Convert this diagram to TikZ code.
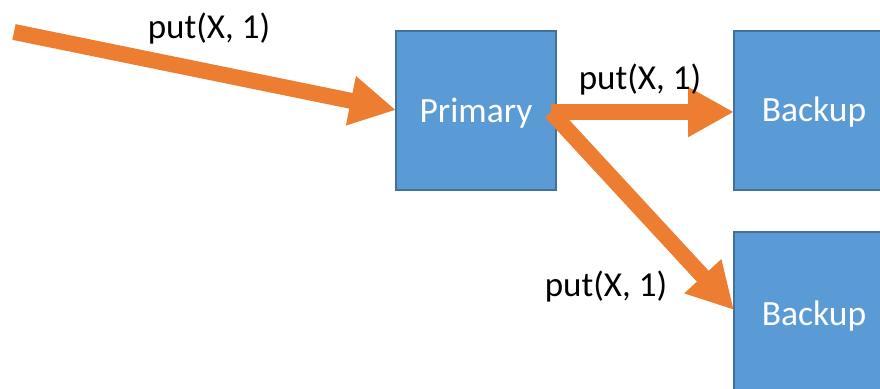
\documentclass[tikz,border=0pt]{standalone}
\usepackage{fontspec}
\setmainfont{Carlito}
\usetikzlibrary{arrows.meta}
\definecolor{boxfill}{HTML}{5B9BD5}
\definecolor{boxline}{HTML}{41719C}
\definecolor{msgorange}{HTML}{ED7D31}
\tikzset{
  server/.style={draw=boxline, fill=boxfill, line width=2pt, minimum width=160pt,
    minimum height=159pt, inner sep=0pt, outer sep=0pt},
  srvtext/.style={text=white, font=\fontsize{35.5}{40}\selectfont, anchor=base},
  msg/.style={draw=msgorange, line width=16pt,
    -{Triangle[length=46pt,width=47pt]}},
  msglabel/.style={font=\fontsize{35}{40}\selectfont, anchor=base, inner sep=0pt}
}
\begin{document}
\begin{tikzpicture}[x=1pt,y=1pt]
  \useasboundingbox (0,0) rectangle (880,388);
  \clip (0,0) rectangle (880,388);
  \fill[white] (0,0) rectangle (880,388);

  % replica boxes
  \node[server] (primary) at (476,277) {};
  \node[server] (backup1) at (814,277) {};
  \node[server] (backup2) at (814,76) {};
  \node[srvtext] (ptext) at (476,265) {Primary};
  \node[srvtext] (b1text) at (814,266) {Backup};
  \node[srvtext] (b2text) at (814,63) {Backup};

  % request path
  \coordinate (client) at (14,356);
  \coordinate (fork) at (551,276);
  \draw[msg] (client) -- (primary.west |- 0,278);
  \draw[msg] (fork) -- (backup1.west |- fork);
  \draw[msg] (fork) -- (backup2.west |- 0,78);

  % message labels
  \node[msglabel] (l1) at (209,349) {put(X, 1)};
  \node[msglabel] (l2) at (640,298) {put(X, 1)};
  \node[msglabel] (l3) at (606,91) {put(X, 1)};
\end{tikzpicture}
\end{document}
